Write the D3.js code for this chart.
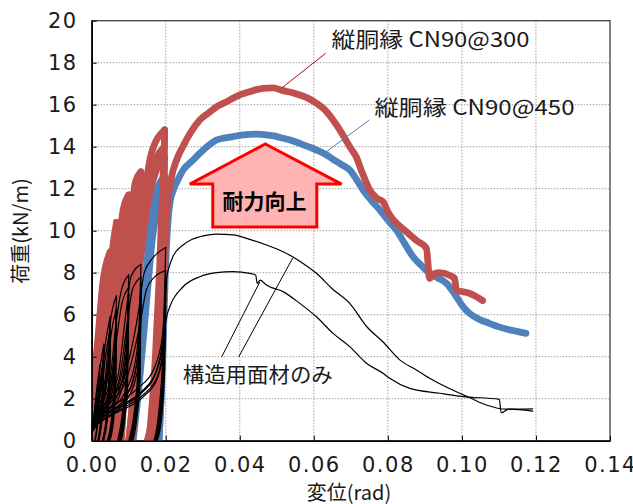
<!DOCTYPE html>
<html>
<head>
<meta charset="utf-8">
<script src="https://cdnjs.cloudflare.com/ajax/libs/d3/7.8.5/d3.min.js"></script>
<style>
  body { margin: 0; background: #fff; }
</style>
</head>
<body>
<svg id="chart" width="633" height="504"></svg>
<script>
// ---- data ----
var xTicks = [0, 0.02, 0.04, 0.06, 0.08, 0.10, 0.12, 0.14];
var yTicks = [0, 2, 4, 6, 8, 10, 12, 14, 16, 18, 20];
var seriesLabels = ["縦胴縁 CN90@300", "縦胴縁 CN90@450", "構造用面材のみ"];
var arrowText = "耐力向上";
var xTitle = "変位(rad)";
var yTitle = "荷重(kN/m)";

// cyclic branches (each sorted by displacement), [rad, kN/m]
var redBranches = [
  [[0,0],[0.0010,2.8],[0.0022,5.2]],
  [[0.0010,0],[0.0017,2.4],[0.0022,5.2]],
  [[0,0.3],[0.0014,2.8],[0.0024,5.0],[0.0033,6.8]],
  [[0.0018,0],[0.0027,3.0],[0.0033,6.8]],
  [[0,0.6],[0.0018,2.8],[0.0034,5.8],[0.0040,7.4],[0.0050,8.8]],
  [[0.0030,0],[0.0042,3.5],[0.0050,8.8]],
  [[0,0.5],[0.0022,2.2],[0.0038,4.8],[0.0050,8.2]],
  [[0.0033,0],[0.0044,3.5],[0.0050,8.2]],
  [[0,0.4],[0.0025,2.0],[0.0042,4.6],[0.0050,7.9]],
  [[0.0036,0],[0.0046,3.5],[0.0050,7.9]],
  [[0,2.0],[0.0015,4.5],[0.0030,7.5],[0.0050,9.0]],
  [[0,0.7],[0.0025,2.8],[0.0045,6.5],[0.0055,8.9],[0.0067,10.4]],
  [[0.0045,0],[0.0058,4.0],[0.0067,10.4]],
  [[0,0.6],[0.0030,2.4],[0.0052,5.5],[0.0067,9.7]],
  [[0.0048,0],[0.0060,4.0],[0.0067,9.7]],
  [[0.0005,0],[0.0035,2.2],[0.0057,5.0],[0.0067,9.3]],
  [[0.0052,0],[0.0062,4.0],[0.0067,9.3]],
  [[0,1.2],[0.0020,2.8],[0.0040,6.0],[0.0058,9.0],[0.0067,9.9]],
  [[0.0005,0],[0.0025,4.0],[0.0045,7.8],[0.0067,10.0]],
  [[0,0.8],[0.0035,2.8],[0.0060,6.5],[0.0075,9.5],[0.0085,11.0],[0.0100,11.7]],
  [[0.0072,0],[0.0088,4.5],[0.0100,11.7]],
  [[0.0005,0],[0.0045,2.6],[0.0072,6.0],[0.0100,11.0]],
  [[0.0076,0],[0.0090,4.5],[0.0100,11.0]],
  [[0.0015,0],[0.0055,2.5],[0.0080,6.0],[0.0100,10.6]],
  [[0.0080,0],[0.0092,4.5],[0.0100,10.6]],
  [[0,0.5],[0.0040,1.5],[0.0075,3.5],[0.0092,7.0],[0.0100,10.3]],
  [[0.0020,0],[0.0050,4.5],[0.0070,8.5],[0.0100,11.2]],
  [[0.0010,0],[0.0050,2.8],[0.0085,7.0],[0.0105,10.5],[0.0118,12.3],[0.0133,12.8]],
  [[0.0100,0],[0.0120,5.0],[0.0133,12.8]],
  [[0.0025,0],[0.0065,2.8],[0.0098,7.0],[0.0133,12.2]],
  [[0.0106,0],[0.0122,5.0],[0.0133,12.2]],
  [[0.0040,0],[0.0078,2.8],[0.0108,7.0],[0.0133,11.8]],
  [[0.0110,0],[0.0124,5.0],[0.0133,11.8]],
  [[0,0.8],[0.0060,2.0],[0.0095,4.0],[0.0118,8.0],[0.0133,11.4]],
  [[0.0040,0],[0.0090,4.0],[0.0115,7.0],[0.0135,10.5],[0.0160,13.6],[0.0197,14.8]],
  [[0.0055,0],[0.0098,4.0],[0.0122,7.5],[0.0142,10.8],[0.0170,13.2],[0.0197,14.0]],
  [[0.0070,0],[0.0104,4.0],[0.0128,8.0],[0.0148,10.9],[0.0175,12.9],[0.0197,13.5]],
  [[0.0165,0],[0.0180,4.0],[0.0190,8.0],[0.0197,14.8]],
  [[0.0155,0],[0.0172,4.0],[0.0183,8.0],[0.0197,14.5]],
  [[0.0170,0],[0.0186,4.5],[0.0197,13.5]]
];
var redEnvelope = [[0.0150,0],[0.0178,3.0],[0.0193,6.5],[0.0199,9.5],[0.0205,11.2],[0.0215,12.5],[0.0230,13.4],[0.0246,14.0],[0.0270,14.75],[0.0292,15.27],[0.0315,15.6],[0.0337,15.9],[0.0360,16.1],[0.0381,16.3],[0.0405,16.5],[0.0427,16.62],[0.0445,16.72],[0.0463,16.78],[0.0490,16.8],[0.0517,16.67],[0.0540,16.58],[0.0562,16.46],[0.0585,16.3],[0.0607,16.07],[0.0630,15.75],[0.0652,15.27],[0.0670,14.8],[0.0697,14.0],[0.0715,13.5],[0.0730,12.8],[0.0751,11.94],[0.0770,11.55],[0.0787,11.38],[0.0800,10.9],[0.0850,9.95],[0.0880,9.5],[0.0904,9.16],[0.0913,7.73],[0.0925,7.95],[0.0940,8.0],[0.0970,7.85],[0.0980,7.73],[0.0985,7.18],[0.1020,7.02],[0.1040,6.85],[0.1056,6.67]];

var blueBranches = [
  [[0,0],[0.0011,2.6],[0.0022,4.8]],
  [[0.0011,0],[0.0018,2.2],[0.0022,4.8]],
  [[0,0.3],[0.0015,2.6],[0.0033,6.2]],
  [[0.0019,0],[0.0028,2.8],[0.0033,6.2]],
  [[0,0.5],[0.0020,2.5],[0.0036,5.2],[0.0050,8.0]],
  [[0.0031,0],[0.0043,3.2],[0.0050,8.0]],
  [[0,0.6],[0.0028,2.6],[0.0048,5.8],[0.0067,9.4]],
  [[0.0047,0],[0.0059,3.6],[0.0067,9.4]],
  [[0,0.7],[0.0040,2.6],[0.0068,6.2],[0.0085,9.0],[0.0100,10.6]],
  [[0.0074,0],[0.0089,4.0],[0.0100,10.6]],
  [[0.0015,0],[0.0060,2.6],[0.0095,6.0],[0.0115,9.2],[0.0133,11.2]],
  [[0.0104,0],[0.0121,4.2],[0.0133,11.2]],
  [[0.0100,0],[0.0118,3.0],[0.0128,4.5],[0.0142,7.0],[0.0155,9.5],[0.0175,11.8],[0.0197,12.6]],
  [[0.0178,0],[0.0188,4.0],[0.0197,12.6]],
  [[0.0112,0],[0.0130,3.0],[0.0150,7.0],[0.0165,9.8],[0.0182,11.3],[0.0197,11.9]],
  [[0.0181,0],[0.0190,3.8],[0.0197,11.9]]
];
var blueEnvelope = [[0.0182,0],[0.0192,4.0],[0.0199,8.0],[0.0205,10.2],[0.0211,11.3],[0.0222,12.0],[0.0235,12.5],[0.0247,12.89],[0.0270,13.3],[0.0292,13.69],[0.0315,14.05],[0.0337,14.32],[0.0360,14.42],[0.0382,14.48],[0.0405,14.55],[0.0427,14.59],[0.0450,14.6],[0.0472,14.56],[0.0495,14.5],[0.0517,14.4],[0.0540,14.3],[0.0562,14.16],[0.0585,14.0],[0.0607,13.84],[0.0630,13.65],[0.0652,13.40],[0.0675,13.15],[0.0697,12.89],[0.0715,12.45],[0.0733,11.94],[0.0755,11.45],[0.0778,10.99],[0.0800,10.5],[0.0823,10.03],[0.0845,9.4],[0.0868,8.76],[0.0890,8.35],[0.0913,7.97],[0.0935,7.75],[0.0958,7.5],[0.0985,6.86],[0.1000,6.45],[0.1020,6.07],[0.1045,5.8],[0.1074,5.59],[0.1100,5.42],[0.1120,5.32],[0.1145,5.22],[0.1173,5.11]];

// 構造用面材のみ: two specimens
var blackBranches = [
  [[0,0],[0.0010,1.9],[0.0022,3.6]],
  [[0.0008,0],[0.0016,1.2],[0.0022,3.6]],
  [[0,0.4],[0.0012,1.8],[0.0022,3.4],[0.0033,4.6]],
  [[0.0016,0],[0.0026,1.4],[0.0033,4.6]],
  [[0,0.3],[0.0014,1.5],[0.0026,2.9],[0.0033,4.3]],
  [[0.0018,0],[0.0027,1.3],[0.0033,4.3]],
  [[0,0.6],[0.0015,1.7],[0.0030,3.6],[0.0036,4.5],[0.0050,5.9]],
  [[0.0028,0],[0.0040,1.2],[0.0046,2.8],[0.0050,5.9]],
  [[0,0.5],[0.0018,1.3],[0.0034,2.4],[0.0045,3.9],[0.0050,5.3]],
  [[0.0030,0],[0.0041,1.2],[0.0047,2.6],[0.0050,5.3]],
  [[0,0.4],[0.0020,1.2],[0.0036,2.3],[0.0046,3.8],[0.0050,5.1]],
  [[0.0032,0],[0.0042,1.1],[0.0048,2.5],[0.0050,5.1]],
  [[0,0.7],[0.0020,1.6],[0.0038,3.2],[0.0050,5.6],[0.0067,6.9]],
  [[0.0042,0],[0.0055,1.3],[0.0062,3.2],[0.0067,6.9]],
  [[0,0.6],[0.0022,1.3],[0.0045,2.3],[0.0060,4.0],[0.0067,6.2]],
  [[0.0045,0],[0.0057,1.3],[0.0063,3.0],[0.0067,6.2]],
  [[0,0.5],[0.0024,1.2],[0.0048,2.1],[0.0062,3.6],[0.0067,5.9]],
  [[0.0047,0],[0.0058,1.2],[0.0064,2.8],[0.0067,5.9]],
  [[0,0.8],[0.0025,1.6],[0.0050,3.0],[0.0066,5.6],[0.0077,6.9],[0.0100,7.9]],
  [[0.0070,0],[0.0083,1.3],[0.0094,3.5],[0.0100,7.9]],
  [[0,0.7],[0.0030,1.4],[0.0066,2.3],[0.0088,3.9],[0.0096,5.5],[0.0100,7.0]],
  [[0.0074,0],[0.0086,1.3],[0.0095,3.3],[0.0100,7.0]],
  [[0,0.6],[0.0034,1.3],[0.0070,2.2],[0.0091,3.7],[0.0098,5.3],[0.0100,6.7]],
  [[0.0077,0],[0.0088,1.2],[0.0096,3.1],[0.0100,6.7]],
  [[0,0.9],[0.0030,1.6],[0.0070,3.0],[0.0092,6.0],[0.0106,7.8],[0.0133,8.4]],
  [[0.0100,0],[0.0115,1.4],[0.0126,3.8],[0.0133,8.4]],
  [[0,0.8],[0.0040,1.4],[0.0090,2.3],[0.0118,3.8],[0.0128,5.5],[0.0133,7.5]],
  [[0.0105,0],[0.0118,1.4],[0.0128,3.5],[0.0133,7.5]],
  [[0,0.7],[0.0045,1.3],[0.0095,2.2],[0.0121,3.6],[0.0130,5.3],[0.0133,7.1]],
  [[0.0108,0],[0.0121,1.3],[0.0130,3.3],[0.0133,7.1]],
  [[0,1.0],[0.0040,1.8],[0.0090,3.2],[0.0125,6.0],[0.0142,8.0],[0.0165,8.7],[0.0200,9.2]],
  [[0.0168,0],[0.0180,1.2],[0.0193,4.5],[0.0200,9.2]],
  [[0,0.9],[0.0020,1.2],[0.0060,1.7],[0.0125,2.5],[0.0170,3.5],[0.0191,5.0],[0.0200,7.6]],
  [[0.0172,0],[0.0184,1.2],[0.0195,4.0],[0.0200,7.6]],
  [[0,0.8],[0.0030,1.1],[0.0070,1.6],[0.0135,2.35],[0.0174,3.3],[0.0193,4.9],[0.0200,7.3]],
  [[0.0175,0],[0.0187,1.2],[0.0196,3.8],[0.0200,7.3]],
  [[0,0],[0.0010,1.7],[0.0022,3.1]],
  [[0.0009,0],[0.0017,1.0],[0.0022,3.1]],
  [[0,0.3],[0.0013,1.6],[0.0024,3.0],[0.0033,4.1]],
  [[0.0018,0],[0.0027,1.2],[0.0033,4.1]],
  [[0,0.3],[0.0015,1.4],[0.0027,2.7],[0.0033,3.8]],
  [[0.0019,0],[0.0028,1.1],[0.0033,3.8]],
  [[0,0.5],[0.0016,1.5],[0.0032,3.2],[0.0038,4.1],[0.0050,5.3]],
  [[0.0030,0],[0.0041,1.1],[0.0047,2.5],[0.0050,5.3]],
  [[0,0.4],[0.0019,1.1],[0.0036,2.2],[0.0046,3.6],[0.0050,4.8]],
  [[0.0032,0],[0.0042,1.0],[0.0048,2.3],[0.0050,4.8]],
  [[0,0.6],[0.0022,1.5],[0.0040,2.9],[0.0052,5.0],[0.0067,6.3]],
  [[0.0045,0],[0.0057,1.2],[0.0063,2.9],[0.0067,6.3]],
  [[0,0.5],[0.0025,1.2],[0.0048,2.1],[0.0061,3.6],[0.0067,5.6]],
  [[0.0047,0],[0.0058,1.2],[0.0064,2.7],[0.0067,5.6]],
  [[0,0.4],[0.0027,1.1],[0.0051,2.0],[0.0063,3.4],[0.0067,5.2]],
  [[0.0049,0],[0.0060,1.1],[0.0065,2.6],[0.0067,5.2]],
  [[0,0.7],[0.0028,1.5],[0.0054,2.9],[0.0070,5.2],[0.0080,6.4],[0.0100,7.3]],
  [[0.0073,0],[0.0085,1.2],[0.0095,3.2],[0.0100,7.3]],
  [[0,0.6],[0.0032,1.3],[0.0068,2.1],[0.0089,3.6],[0.0097,5.1],[0.0100,6.5]],
  [[0.0077,0],[0.0088,1.2],[0.0096,3.0],[0.0100,6.5]],
  [[0,0.5],[0.0036,1.2],[0.0072,2.0],[0.0092,3.4],[0.0098,4.8],[0.0100,6.1]],
  [[0.0080,0],[0.0090,1.1],[0.0097,2.8],[0.0100,6.1]],
  [[0,0.8],[0.0032,1.5],[0.0074,2.9],[0.0096,5.6],[0.0110,7.2],[0.0133,7.8]],
  [[0.0103,0],[0.0117,1.3],[0.0127,3.5],[0.0133,7.8]],
  [[0,0.7],[0.0042,1.3],[0.0093,2.1],[0.0120,3.5],[0.0129,5.1],[0.0133,6.9]],
  [[0.0108,0],[0.0120,1.3],[0.0129,3.2],[0.0133,6.9]],
  [[0,0.6],[0.0047,1.2],[0.0097,2.0],[0.0123,3.3],[0.0131,4.8],[0.0133,6.5]],
  [[0.0111,0],[0.0123,1.2],[0.0131,3.0],[0.0133,6.5]],
  [[0,0.9],[0.0045,1.7],[0.0095,3.0],[0.0130,5.5],[0.0148,7.2],[0.0170,7.8],[0.0200,8.1]],
  [[0.0170,0],[0.0182,1.1],[0.0194,4.0],[0.0200,8.1]],
  [[0,0.8],[0.0025,1.1],[0.0070,1.6],[0.0135,2.3],[0.0175,3.3],[0.0194,4.8],[0.0200,6.8]],
  [[0.0174,0],[0.0186,1.1],[0.0196,3.6],[0.0200,6.8]],
  [[0,0.7],[0.0032,1.0],[0.0078,1.5],[0.0140,2.2],[0.0178,3.1],[0.0195,4.6],[0.0200,6.4]],
  [[0.0177,0],[0.0189,1.1],[0.0197,3.4],[0.0200,6.4]]
];
var blackEnvelopeA = [[0,0.8],[0.0025,1.1],[0.0065,1.5],[0.0130,2.2],[0.0172,3.2],[0.0193,4.8],[0.0199,6.5],[0.0203,7.8],[0.0207,8.13],[0.0220,8.8],[0.0247,9.32],[0.0270,9.58],[0.0292,9.71],[0.0337,9.84],[0.0382,9.80],[0.0427,9.59],[0.0472,9.32],[0.0517,9.00],[0.0562,8.55],[0.0607,7.97],[0.0652,7.20],[0.0697,6.54],[0.0742,5.45],[0.0787,4.70],[0.0832,3.85],[0.0877,3.37],[0.0920,2.90],[0.0985,2.33],[0.1020,2.06],[0.1066,1.70],[0.1120,1.50],[0.1191,1.52]];
var blackEnvelopeB = [[0,0.7],[0.0030,1.0],[0.0075,1.4],[0.0140,2.1],[0.0178,3.0],[0.0195,4.5],[0.0199,5.5],[0.0204,6.0],[0.0211,6.38],[0.0247,7.33],[0.0292,7.81],[0.0337,8.00],[0.0382,8.05],[0.0427,7.97],[0.0443,7.89],[0.0447,7.49],[0.0455,7.65],[0.0472,7.41],[0.0517,7.10],[0.0562,6.54],[0.0607,5.90],[0.0652,5.11],[0.0697,4.48],[0.0742,3.69],[0.0787,3.21],[0.0805,2.97],[0.0859,2.49],[0.0940,2.26],[0.1002,2.10],[0.1101,1.97],[0.1106,1.33],[0.1127,1.50],[0.1191,1.41]];

// ---- drawing ----
var svg = d3.select("#chart");
var pL = 91.7, pR = 610, pT = 20.7, pB = 440.7;
var x = d3.scaleLinear().domain([0, 0.14]).range([pL, pR]);
var y = d3.scaleLinear().domain([0, 20]).range([pB, pT]);

var numFont = "'DejaVu Sans', sans-serif";
var jpFont = "'Noto Sans CJK JP', sans-serif";
var RED = "#C0504D", BLUE = "#4F81BD";

svg.append("defs").append("clipPath").attr("id", "plotClip")
  .append("rect").attr("x", pL).attr("y", pT)
  .attr("width", pR - pL).attr("height", pB - pT);

// grid
svg.append("g").selectAll("line").data(yTicks.slice(1, -1)).enter().append("line")
  .attr("x1", pL).attr("x2", pR)
  .attr("y1", d => y(d)).attr("y2", d => y(d))
  .style("stroke", "#a0a0a0").style("stroke-width", 1).style("stroke-dasharray", "1.5,1.5");
svg.append("g").selectAll("line").data(xTicks.slice(1, -1)).enter().append("line")
  .attr("y1", pT).attr("y2", pB)
  .attr("x1", d => x(d)).attr("x2", d => x(d))
  .style("stroke", "#a0a0a0").style("stroke-width", 1).style("stroke-dasharray", "1.5,1.5");

// frame
svg.append("rect").attr("x", pL).attr("y", pT)
  .attr("width", pR - pL).attr("height", pB - pT)
  .style("fill", "none").style("stroke", "#404040").style("stroke-width", 1.3);

// curves
var smooth = d3.line().x(d => x(d[0])).y(d => y(d[1])).curve(d3.curveMonotoneX);
var plot = svg.append("g").attr("clip-path", "url(#plotClip)");

function drawSet(branches, color, width) {
  plot.append("g").selectAll("path").data(branches).enter().append("path")
    .attr("d", smooth)
    .style("fill", "none").style("stroke", color).style("stroke-width", width)
    .style("stroke-linejoin", "round").style("stroke-linecap", "round");
}
drawSet(blueBranches, BLUE, 6.8);
drawSet([blueEnvelope], BLUE, 6.8);
drawSet(redBranches, RED, 6.8);
drawSet([redEnvelope], RED, 6.8);
drawSet(blackBranches, "#000", 1.2);
drawSet([blackEnvelopeA, blackEnvelopeB], "#000", 1.2);

// axes
var xAxis = svg.append("g").attr("transform", "translate(0," + pB + ")")
  .call(d3.axisBottom(x).tickValues(xTicks).tickFormat(d3.format(".2f"))
    .tickSizeInner(-5).tickSizeOuter(0).tickPadding(16));
var yAxis = svg.append("g").attr("transform", "translate(" + pL + ",0)")
  .call(d3.axisLeft(y).tickValues(yTicks).tickFormat(d3.format("d"))
    .tickSizeInner(-5).tickSizeOuter(0).tickPadding(14));
[xAxis, yAxis].forEach(function (g) {
  g.select(".domain").style("stroke", "#000").style("stroke-width", 1.6);
  g.selectAll(".tick line").style("stroke", "#000");
  g.selectAll("text").style("font-family", numFont).style("font-size", "21px")
    .style("letter-spacing", "1.5px").style("fill", "#1a1a1a");
});

// axis titles
svg.append("text").attr("x", 349).attr("y", 500).attr("text-anchor", "middle")
  .style("font-family", jpFont).style("font-size", "20px").style("fill", "#1a1a1a")
  .text(xTitle);
svg.append("text").attr("transform", "translate(28,231) rotate(-90)").attr("text-anchor", "middle")
  .style("font-family", jpFont).style("font-size", "20px").style("fill", "#1a1a1a")
  .text(yTitle);

// leader lines
function leader(p, q, color) {
  svg.append("line").attr("x1", x(p[0])).attr("y1", y(p[1]))
    .attr("x2", x(q[0])).attr("y2", y(q[1]))
    .style("stroke", color).style("stroke-width", 1);
}
leader([0.0632, 18.45], [0.0513, 16.79], "#C00000");
leader([0.0750, 15.27], [0.0629, 13.70], BLUE);
leader([0.0351, 3.99], [0.0454, 7.56], "#000");
leader([0.0397, 3.99], [0.0543, 8.70], "#000");

function label(str, px, py, len) {
  svg.append("text").attr("x", x(px)).attr("y", y(py))
    .attr("textLength", len).attr("lengthAdjust", "spacingAndGlyphs")
    .style("font-family", jpFont).style("font-size", "21px").style("fill", "#1a1a1a")
    .text(str);
}
label(seriesLabels[0], 0.0648, 18.75, 198);
label(seriesLabels[1], 0.0764, 15.51, 200);
label(seriesLabels[2], 0.0246, 2.80, 150);

// arrow
var arrowPts = [[0.0469,14.13],[0.0675,12.22],[0.0608,12.22],[0.0608,10.18],[0.0327,10.18],[0.0327,12.22],[0.0265,12.22]];
svg.append("path")
  .attr("d", d3.line().x(d => x(d[0])).y(d => y(d[1])).curve(d3.curveLinearClosed)(arrowPts))
  .style("fill", "#FFB3B3").style("stroke", "#FF0000").style("stroke-width", 3)
  .style("stroke-linejoin", "miter");
svg.append("text").attr("x", x(0.0467)).attr("y", y(11.37)).attr("dy", "0.36em")
  .attr("text-anchor", "middle")
  .style("font-family", jpFont).style("font-size", "21px").style("font-weight", "bold")
  .style("fill", "#000").text(arrowText);
</script>
</body>
</html>
